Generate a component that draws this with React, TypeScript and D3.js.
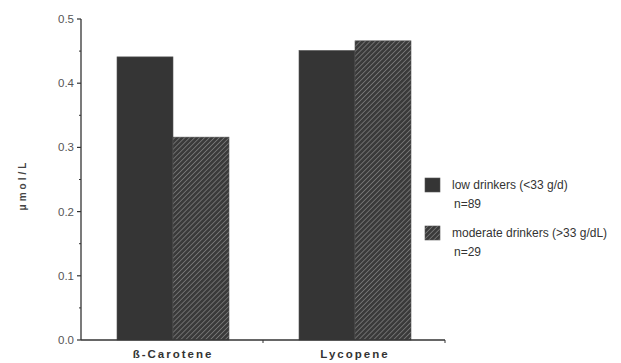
import React from "react";
import * as d3 from "d3";

const categories = ["ß-Carotene", "Lycopene"];
const seriesNames = ["low drinkers (<33 g/d)", "moderate drinkers (>33 g/dL)"];
const seriesN = ["n=89", "n=29"];
const lowValues = [0.441, 0.451];
const moderateValues = [0.316, 0.466];
const yTicks = [0, 0.1, 0.2, 0.3, 0.4, 0.5];
const yMinorTicks = [0.05, 0.15, 0.25, 0.35, 0.45];

const W = 621;
const H = 363;
const left = 81;
const right = 445;
const top = 19;
const bottom = 340;

export default function App() {
  const x = d3.scaleBand<string>().domain(categories).range([left, right]).padding(0);
  const y = d3.scaleLinear().domain([0, 0.5]).range([bottom, top]);
  const barW = 56;
  const values = [lowValues, moderateValues];
  const font = "Liberation Sans, Arial, Helvetica, sans-serif";

  return (
    <svg
      width={W}
      height={H}
      style={{ position: "absolute", left: 0, top: 0, background: "#fff" }}
      fontFamily={font}
    >
      <defs>
        <pattern id="hatch" patternUnits="userSpaceOnUse" width="3.5" height="3.5" patternTransform="rotate(45)">
          <rect width="3.5" height="3.5" fill="#3a3a3a" />
          <line x1="0" y1="0" x2="0" y2="3.5" stroke="#9a9a9a" strokeWidth="1.1" />
        </pattern>
      </defs>

      {/* bars */}
      {categories.map((c, i) => {
        const cx = (x(c) as number) + x.bandwidth() / 2 + 1;
        return (
          <g key={c}>
            {values.map((vals, s) => (
              <rect
                key={s}
                x={cx - barW + s * barW}
                y={y(vals[i])}
                width={barW}
                height={bottom - y(vals[i])}
                fill={s === 0 ? "#353535" : "url(#hatch)"}
                stroke="#555"
                strokeWidth={0.6}
              />
            ))}
          </g>
        );
      })}

      {/* y axis */}
      <line x1={left} x2={left} y1={top} y2={bottom} stroke="#333" strokeWidth={1.3} />
      {yTicks.map((t) => (
        <g key={t}>
          <line x1={left - 4} x2={left} y1={y(t)} y2={y(t)} stroke="#333" strokeWidth={1.2} />
          <text x={left - 7} y={y(t)} dy="0.35em" textAnchor="end" fontSize={11.5} fill="#555">
            {d3.format(".1f")(t)}
          </text>
        </g>
      ))}
      {yMinorTicks.map((t) => (
        <line key={t} x1={left - 2} x2={left} y1={y(t)} y2={y(t)} stroke="#333" strokeWidth={1} />
      ))}

      {/* x axis */}
      <line x1={left} x2={right} y1={bottom} y2={bottom} stroke="#333" strokeWidth={1.3} />
      {categories.map((c) => (
        <line
          key={c}
          x1={(x(c) as number) + x.bandwidth()}
          x2={(x(c) as number) + x.bandwidth()}
          y1={bottom}
          y2={bottom + 3}
          stroke="#333"
          strokeWidth={1}
        />
      ))}
      {categories.map((c) => (
        <text
          key={c}
          x={(x(c) as number) + x.bandwidth() / 2 + 1}
          y={358}
          textAnchor="middle"
          fontSize={11.5}
          fontWeight="bold"
          letterSpacing={2}
          fill="#333"
        >
          {c}
        </text>
      ))}

      {/* y label */}
      <text
        transform="translate(26,185) rotate(-90)"
        textAnchor="middle"
        fontSize={10}
        fontWeight="bold"
        letterSpacing={3}
        fill="#444"
      >
        μmol/L
      </text>

      {/* legend */}
      {seriesNames.map((name, s) => {
        const ly = 178 + s * 48;
        return (
          <g key={name}>
            <rect
              x={425}
              y={ly}
              width={15}
              height={14}
              fill={s === 0 ? "#353535" : "url(#hatch)"}
              stroke="#555"
              strokeWidth={0.6}
            />
            <text x={452} y={ly + 11} fontSize={12} fill="#333">
              {name}
            </text>
            <text x={454} y={ly + 30} fontSize={12} fill="#333">
              {seriesN[s]}
            </text>
          </g>
        );
      })}
    </svg>
  );
}
